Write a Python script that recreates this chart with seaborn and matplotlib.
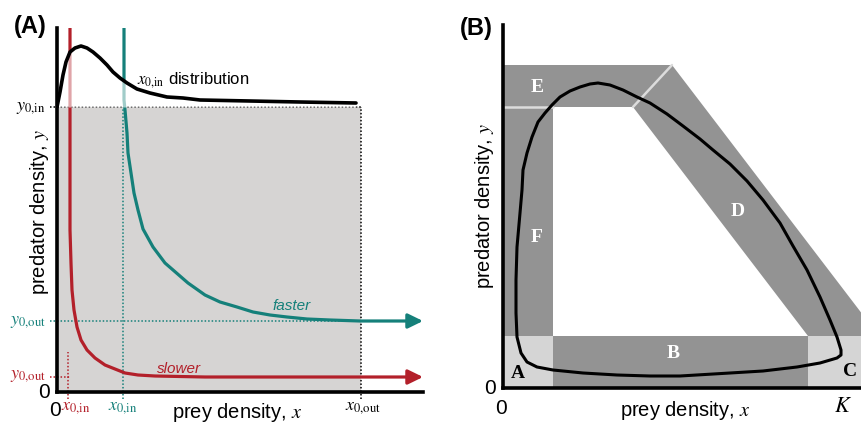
import matplotlib
matplotlib.use("Agg")
import matplotlib.pyplot as plt
from matplotlib.patches import Polygon, Rectangle
import pandas as pd
import seaborn as sns

sns.set_style("white")
plt.rcParams["font.family"] = ["Liberation Sans", "DejaVu Sans"]
plt.rcParams["mathtext.fontset"] = "stix"
plt.rcParams["text.color"] = "black"

RED = "#b3202a"
TEAL = "#15807a"
DARK = "#939393"
LIGHT = "#d5d5d5"

# ---- panel A: values (axis units) ----
x0_in_slow = 11
x0_in_fast = 66
x0_out = 304
y0_in = 285
y0_out_fast = 71
y0_out_slow = 15

dist_x = [0, 3, 6, 9, 13, 18, 24, 30, 36, 43, 50, 56, 63, 70, 80, 93, 110, 126, 143, 193, 243, 299]
dist_y = [285, 300, 317, 330, 340, 344, 346, 344, 340, 334, 327, 320, 314, 309, 303, 299, 295,
          294, 292, 291, 290, 289]

slow_x = [13, 13, 14, 15, 17, 20, 24, 30, 38, 48, 58, 68, 81, 98, 148, 276, 353]
slow_y = [364, 162, 129, 102, 82, 65, 52, 42, 34, 27, 23, 19, 17, 16, 15, 15, 15]

fast_x = [67, 67, 68, 70, 71, 74, 77, 81, 86, 96, 108, 131, 148, 163, 180, 196, 213, 230, 250,
          273, 303, 353]
fast_y = [364, 292, 282, 259, 239, 219, 199, 182, 163, 145, 129, 109, 97, 90, 85, 80, 77, 75, 73,
          72, 71, 71]

# ---- panel B (loop starts on the left side and goes clockwise) ----
loop_x = [13, 14, 17, 19, 20, 24, 29, 35, 42, 49, 57, 67, 77, 87, 95, 107, 120, 134, 147, 164,
          180, 197, 210, 227, 244, 260, 277, 290, 304, 317, 327, 334, 338, 338, 334, 317, 294,
          260, 227, 177, 147, 114, 80, 50, 34, 24, 18, 14, 13, 13]
loop_y = [108, 141, 175, 198, 218, 235, 251, 266, 275, 283, 291, 297, 301, 304, 305, 303, 298,
          291, 285, 274, 262, 249, 238, 224, 207, 188, 165, 142, 118, 91, 68, 51, 38, 33, 30, 25,
          21, 17, 15, 12, 12, 13, 15, 18, 21, 26, 35, 51, 75, 108]

region_names = ["A", "B", "C", "D", "E", "F"]
region_x = [[0, 50, 50, 0], [50, 305, 305, 50], [305, 376, 376, 305],
            [169, 376, 305, 130], [0, 169, 130, 0], [0, 50, 50, 0]]
region_y = [[0, 0, 52, 52], [0, 0, 52, 52], [0, 0, 52, 52],
            [323, 52, 52, 281], [323, 323, 281, 281], [281, 281, 52, 52]]
region_fill = [LIGHT, DARK, LIGHT, DARK, DARK, DARK]
region_lab_x = [15, 170, 347, 235, 34, 34]
region_lab_y = [14, 34, 17, 176, 301, 151]
region_lab_col = ["black", "white", "black", "white", "white", "white"]

W, H = 861, 422
fig = plt.figure(figsize=(W / 100, H / 100), dpi=100)

# ================= panel A =================
axA = fig.add_axes([57 / W, (H - 392) / H, (423 - 57) / W, (392 - 28) / H])
axA.set_xlim(0, 366)
axA.set_ylim(0, 364)
axA.add_patch(Rectangle((0, 0), x0_out, y0_in, color="#d6d4d3", zorder=0, lw=0))

dot = (0, (1, 1.3))
axA.plot([-7, x0_out], [y0_in, y0_in], color="black", lw=1.1, ls=dot, clip_on=False, zorder=1)
axA.plot([x0_out, x0_out], [-7, y0_in], color="black", lw=1.1, ls=dot, clip_on=False, zorder=1)
axA.plot([-7, x0_out], [y0_out_fast, y0_out_fast], color=TEAL, lw=1.1, ls=dot, clip_on=False, zorder=1)
axA.plot([x0_in_fast, x0_in_fast], [-7, y0_in], color=TEAL, lw=1.1, ls=dot, clip_on=False, zorder=1)
axA.plot([-7, x0_in_slow + 2], [y0_out_slow, y0_out_slow], color=RED, lw=1.1, ls=dot, clip_on=False, zorder=1)
axA.plot([x0_in_slow, x0_in_slow], [-7, 40], color=RED, lw=1.1, ls=dot, clip_on=False, zorder=1)

traj = pd.concat([
    pd.DataFrame({"x": slow_x, "y": slow_y, "speed": "slower"}),
    pd.DataFrame({"x": fast_x, "y": fast_y, "speed": "faster"}),
])
sns.lineplot(data=traj, x="x", y="y", hue="speed", palette={"slower": RED, "faster": TEAL},
             sort=False, estimator=None, lw=2.3, legend=False, ax=axA, zorder=2)
for line in axA.lines[-2:]:
    line.set_solid_joinstyle("round")
for xs, ys, col in [(slow_x, slow_y, RED), (fast_x, fast_y, TEAL)]:
    axA.annotate("", xy=(366, ys[-1]), xytext=(xs[-1] - 2, ys[-1]),
                 arrowprops=dict(arrowstyle="-|>,head_length=0.45,head_width=0.22",
                                 mutation_scale=20, color=col, lw=2.3,
                                 shrinkA=0, shrinkB=0),
                 annotation_clip=False, zorder=2)

# pale veil under the distribution curve
axA.fill_between(dist_x, dist_y, y0_in, color="white", alpha=0.6, lw=0, zorder=3)
sns.lineplot(x=dist_x, y=dist_y, color="black", lw=2.6, sort=False, estimator=None, ax=axA, zorder=4)
axA.lines[-1].set_solid_joinstyle("round")

for s in ["top", "right"]:
    axA.spines[s].set_visible(False)
for s in ["left", "bottom"]:
    axA.spines[s].set_linewidth(2.6)
    axA.spines[s].set_color("black")
    axA.spines[s].set_zorder(5)
axA.set_xticks([])
axA.set_yticks([])
axA.set_xlabel("")
axA.set_ylabel("")

axA.text(80, 312, r"$x_{0{,}\mathrm{in}}$ distribution", fontsize=12, va="center", ha="left")
axA.text(215, 86, "faster", color=TEAL, style="italic", fontsize=11, va="center")
axA.text(100, 23, "slower", color=RED, style="italic", fontsize=11, va="center")
axA.text(-11, y0_in, r"$y_{0{,}\mathrm{in}}$", fontsize=13, ha="right", va="center")
axA.text(-11, y0_out_fast, r"$y_{0{,}\mathrm{out}}$", fontsize=13, ha="right", va="center", color=TEAL)
axA.text(-11, y0_out_slow + 2, r"$y_{0{,}\mathrm{out}}$", fontsize=13, ha="right", va="center", color=RED)
axA.text(19, -16, r"$x_{0{,}\mathrm{in}}$", fontsize=13, ha="center", va="center", color=RED)
axA.text(66, -16, r"$x_{0{,}\mathrm{in}}$", fontsize=13, ha="center", va="center", color=TEAL)
axA.text(x0_out + 2, -16, r"$x_{0{,}\mathrm{out}}$", fontsize=13, ha="center", va="center")
axA.text(-13, 0, "0", fontsize=15, ha="center", va="center")
axA.text(-2, -18, "0", fontsize=15, ha="center", va="center")
axA.text(-17, 180, r"predator density, $y$", fontsize=14.5, rotation=90, ha="center", va="center")
axA.text(180, -20, r"prey density, $x$", fontsize=14.5, ha="center", va="center")
axA.text(-27, 365, "(A)", fontsize=17, fontweight="bold", ha="center", va="center")

# ================= panel B =================
axB = fig.add_axes([503 / W, (H - 388) / H, (W - 503) / W, (388 - 25) / H])
axB.set_xlim(0, 358)
axB.set_ylim(0, 363)
for i, name in enumerate(region_names):
    axB.add_patch(Polygon(list(zip(region_x[i], region_y[i])), closed=True,
                          facecolor=region_fill[i], edgecolor="none", zorder=0))
axB.plot([0, 50], [281, 281], color="#dcdcdc", lw=1.8, zorder=1)
axB.plot([169, 130], [323, 281], color="#dcdcdc", lw=1.8, zorder=1)
for i, name in enumerate(region_names):
    axB.text(region_lab_x[i], region_lab_y[i], name, color=region_lab_col[i],
             family="Liberation Serif", fontweight="bold", fontsize=14,
             ha="center", va="center", zorder=3)

# closed cycle drawn as an outline so there is no seam
axB.add_patch(Polygon(list(zip(loop_x, loop_y)), closed=True, fill=False,
                      edgecolor="black", lw=2.2, joinstyle="round", zorder=2))

for s in ["top", "right"]:
    axB.spines[s].set_visible(False)
for s in ["left", "bottom"]:
    axB.spines[s].set_linewidth(2.6)
    axB.spines[s].set_color("black")
    axB.spines[s].set_zorder(5)
axB.set_xticks([])
axB.set_yticks([])

axB.text(-13, -1, "0", fontsize=15, ha="center", va="center")
axB.text(-2, -20, "0", fontsize=15, ha="center", va="center")
axB.text(340, -18, r"$K$", fontsize=16, ha="center", va="center")
axB.text(-19, 182, r"predator density, $y$", fontsize=14.5, rotation=90, ha="center", va="center")
axB.text(182, -22, r"prey density, $x$", fontsize=14.5, ha="center", va="center")
axB.text(-27, 360, "(B)", fontsize=17, fontweight="bold", ha="center", va="center")

fig.savefig("out.png", dpi=100)
